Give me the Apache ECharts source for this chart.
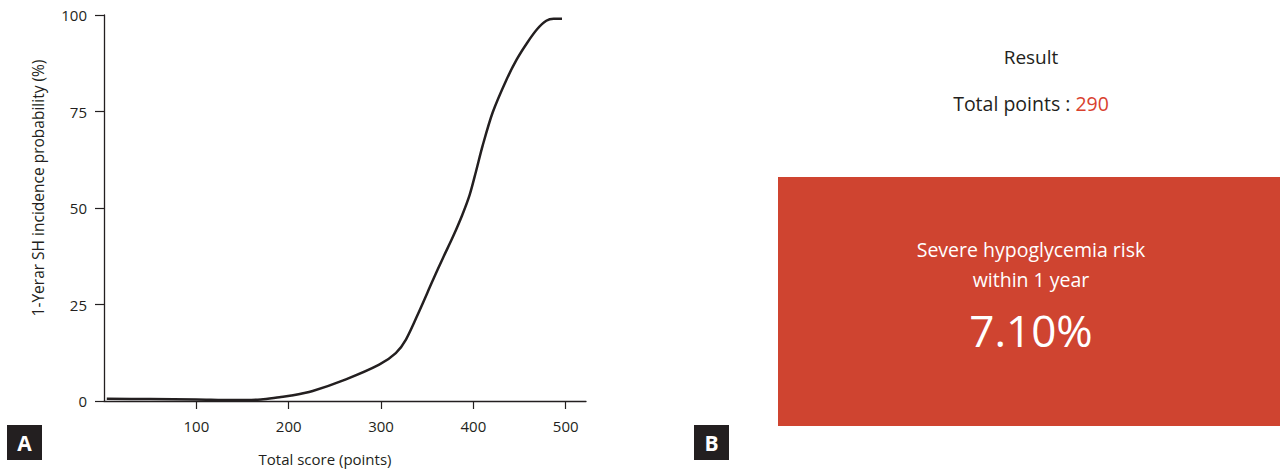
<!DOCTYPE html>
<html>
<head>
<meta charset="utf-8">
<script src="https://cdn.jsdelivr.net/npm/echarts@6/dist/echarts.min.js"></script>
<style>
html,body{margin:0;padding:0;background:#fff;}
#c{width:1280px;height:471px;}
</style>
</head>
<body>
<div id="c"></div>
<script>
// Data
var scores = [3, 50, 100, 140, 170, 190, 203, 226, 262, 298, 316, 327, 342, 356, 367, 378, 388, 396, 403, 410, 421, 436, 447, 458, 469, 479, 487, 496];
var probability = [0.6, 0.5, 0.4, 0.25, 0.4, 1.0, 1.4, 2.6, 5.6, 9.4, 12.4, 15.9, 23.6, 31.2, 37.0, 42.6, 48.2, 53.4, 59.6, 66.1, 74.8, 83.3, 88.5, 92.7, 96.3, 98.5, 99.0, 99.0];
var xTicks = [100, 200, 300, 400, 500];
var yTicks = [0, 25, 50, 75, 100];
var resultTitle = 'Result';
var totalPoints = 290;
var riskLines = ['Severe hypoglycemia risk', 'within 1 year'];
var riskValue = '7.10%';

var FONT = 'Open Sans';
var chart = echarts.init(document.getElementById('c'), null, {renderer: 'svg'});
var lineData = scores.map(function (s, i) { return [s, probability[i]]; });

chart.setOption({
  animation: false,
  backgroundColor: '#ffffff',
  grid: {left: 104, right: 694, top: 15, bottom: 66, containLabel: false},
  xAxis: {
    type: 'value', min: 0, max: 522, interval: 100,
    name: 'Total score (points)', nameLocation: 'middle', nameGap: 50,
    nameTextStyle: {fontFamily: FONT, fontSize: 15, color: '#231f20', padding: [0, 40, 0, 0]},
    axisLine: {show: true, lineStyle: {color: '#231f20', width: 1.3}},
    axisTick: {show: true, length: 8, inside: false, customValues: xTicks, lineStyle: {color: '#231f20', width: 1.2}},
    axisLabel: {customValues: xTicks, margin: 17, fontFamily: FONT, fontSize: 15, color: '#231f20'},
    splitLine: {show: false}
  },
  yAxis: {
    type: 'value', min: 0, max: 100, interval: 25,
    name: '1-Yerar SH incidence probability (%)', nameLocation: 'middle', nameGap: 58,
    nameTextStyle: {fontFamily: FONT, fontSize: 15.5, color: '#231f20', padding: [0, 0, 0, 40]},
    axisLine: {show: true, lineStyle: {color: '#231f20', width: 1.3}},
    axisTick: {show: true, length: 9, customValues: yTicks, lineStyle: {color: '#231f20', width: 1.2}},
    axisLabel: {customValues: yTicks, margin: 17, fontFamily: FONT, fontSize: 15, color: '#231f20'},
    splitLine: {show: false}
  },
  series: [{
    type: 'line',
    data: lineData,
    showSymbol: false,
    smooth: 0.3,
    lineStyle: {color: '#231f20', width: 2.5},
    silent: true
  }],
  graphic: [
    {type: 'rect', left: 7, top: 425, shape: {width: 35, height: 35}, style: {fill: '#231f20'}},
    {type: 'text', x: 24.5, y: 442.5, style: {text: 'A', fill: '#fff', font: 'bold 21px "' + FONT + '"', align: 'center', verticalAlign: 'middle'}},
    {type: 'rect', left: 694, top: 425, shape: {width: 35, height: 35}, style: {fill: '#231f20'}},
    {type: 'text', x: 711.5, y: 442.5, style: {text: 'B', fill: '#fff', font: 'bold 21px "' + FONT + '"', align: 'center', verticalAlign: 'middle'}},
    {type: 'text', x: 1031, y: 57, style: {text: resultTitle, fill: '#231f20', font: '19px "' + FONT + '"', align: 'center', verticalAlign: 'middle'}},
    {type: 'text', x: 1031, y: 103, style: {
      text: '{a|Total points : }{b|' + totalPoints + '}', align: 'center', verticalAlign: 'middle',
      rich: {a: {fill: '#231f20', fontSize: 19.5, fontFamily: FONT}, b: {fill: '#d9412e', fontSize: 19.5, fontFamily: FONT}}
    }},
    {type: 'rect', left: 778, top: 177, shape: {width: 502, height: 249}, style: {fill: '#cf4430'}},
    {type: 'text', x: 1031, y: 249, style: {text: riskLines[0], fill: '#fff', font: '19.5px "' + FONT + '"', align: 'center', verticalAlign: 'middle'}},
    {type: 'text', x: 1031, y: 279, style: {text: riskLines[1], fill: '#fff', font: '19.5px "' + FONT + '"', align: 'center', verticalAlign: 'middle'}},
    {type: 'text', x: 1031, y: 330, style: {text: riskValue, fill: '#fff', font: '44px "' + FONT + '"', align: 'center', verticalAlign: 'middle'}}
  ]
});
</script>
</body>
</html>
